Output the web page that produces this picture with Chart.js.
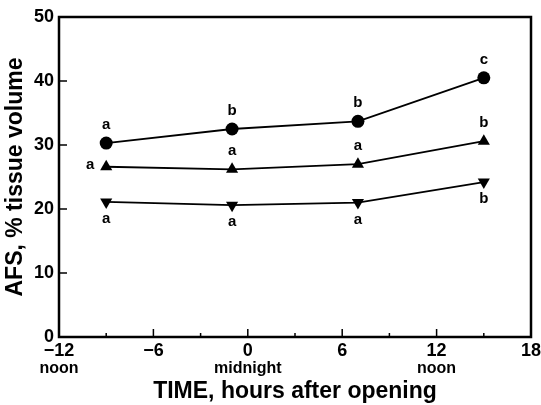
<!DOCTYPE html>
<html>
<head>
<meta charset="utf-8">
<script src="https://cdn.jsdelivr.net/npm/chart.js@4.4.1/dist/chart.umd.min.js"></script>
<style>
  html, body { margin: 0; padding: 0; background: #fff; }
  #wrap { width: 541px; height: 405px; }
</style>
</head>
<body>
<div id="wrap"><canvas id="myChart" width="541" height="405"></canvas></div>
<script>
// hours after opening
const hours = [-9, -1, 7, 15];
// AFS, % tissue volume
const afsCircle = [30.3, 32.5, 33.7, 40.5];
const afsTriangle = [26.6, 26.2, 27.0, 30.6];
const afsInverted = [21.1, 20.6, 21.0, 24.2];
// significance letters
const circleLetters = ['a', 'b', 'b', 'c'];
const triangleLetters = ['a', 'a', 'a', 'b'];
const invertedLetters = ['a', 'a', 'a', 'b'];
// second line under some x ticks
const xSubValues = [-12, 0, 12];
const xSubLabels = ['noon', 'midnight', 'noon'];

const FONT = "'Liberation Sans', Arial, sans-serif";

const toPoints = (ys) => hours.map((h, i) => ({ x: h, y: ys[i] }));

const mkSet = (ys, style, rot) => ({
    data: toPoints(ys),
    showLine: true,
    borderColor: '#000',
    backgroundColor: '#000',
    borderWidth: 1.8,
    pointStyle: style,
    pointRotation: rot,
    pointRadius: style == 'circle' ? 6.5 : 7,
    pointBorderWidth: 0
});

// box, inward ticks, letters and sub labels
const extras = {
    id: 'extras',
    afterDraw(chart) {
        const ctx = chart.ctx;
        const a = chart.chartArea;
        const xs = chart.scales.x, ys = chart.scales.y;
        ctx.save();
        ctx.strokeStyle = '#000';
        ctx.lineWidth = 2.5;
        ctx.strokeRect(a.left, a.top, a.right - a.left, a.bottom - a.top);

        ctx.lineWidth = 1.5;
        ctx.beginPath();
        xs.ticks.forEach(t => {
            const px = xs.getPixelForValue(t.value);
            const len = t.value % 6 == 0 ? 8 : 4;
            ctx.moveTo(px, a.bottom);
            ctx.lineTo(px, a.bottom - len);
        });
        ys.ticks.forEach(t => {
            const py = ys.getPixelForValue(t.value);
            ctx.moveTo(a.left, py);
            ctx.lineTo(a.left + 8, py);
        });
        ctx.stroke();

        ctx.fillStyle = '#000';
        ctx.font = "bold 15px " + FONT;
        ctx.textAlign = 'center';
        ctx.textBaseline = 'middle';
        const letters = [circleLetters, triangleLetters, invertedLetters];
        letters.forEach((ls, di) => {
            const meta = chart.getDatasetMeta(di);
            meta.data.forEach((p, i) => {
                let dx = 0, dy = -18;
                if (di == 1 && i == 0) { dx = -16; dy = -2; }
                if (di == 2) dy = 17;
                ctx.fillText(ls[i], p.x + dx, p.y + dy);
            });
        });

        ctx.font = "bold 16px " + FONT;
        xSubValues.forEach((v, i) => {
            ctx.fillText(xSubLabels[i], xs.getPixelForValue(v), a.bottom + 32);
        });
        ctx.restore();
    }
};

const loadChart = () =>
{
    const ctx = document.getElementById('myChart').getContext('2d');
    new Chart(ctx, {
        type: 'scatter',
        data: {
            datasets: [
                mkSet(afsCircle, 'circle', 0),
                mkSet(afsTriangle, 'triangle', 0),
                mkSet(afsInverted, 'triangle', 180)
            ]
        },
        options: {
            responsive: false,
            animation: false,
            layout: { padding: { top: 17, right: 10, left: 0, bottom: 0 } },
            plugins: { legend: { display: false }, tooltip: { enabled: false } },
            scales: {
                x: {
                    type: 'linear',
                    min: -12, max: 18,
                    ticks: {
                        stepSize: 3,
                        color: '#000',
                        padding: 3,
                        maxRotation: 0,
                        autoSkip: false,
                        font: { family: FONT, size: 18, weight: 'bold' },
                        callback: (v) => v % 6 == 0 ? String(v).replace('-', '\u2212') : ''
                    },
                    grid: { display: false, drawTicks: false },
                    border: { display: false },
                    title: {
                        display: true,
                        text: 'TIME, hours after opening',
                        color: '#000',
                        font: { family: FONT, size: 23, weight: 'bold' },
                        padding: { top: 0, bottom: 0 }
                    },
                    afterFit: (s) => { s.height = 68; s.paddingLeft = 0; s.paddingRight = 0; }
                },
                y: {
                    min: 0, max: 50,
                    ticks: {
                        stepSize: 10,
                        color: '#000',
                        padding: 5,
                        font: { family: FONT, size: 18, weight: 'bold' }
                    },
                    grid: { display: false, drawTicks: false },
                    border: { display: false },
                    title: {
                        display: true,
                        text: 'AFS, % tissue volume',
                        color: '#000',
                        font: { family: FONT, size: 23, weight: 'bold' },
                        padding: { top: 2, bottom: 0 }
                    },
                    afterFit: (s) => { s.width = 59; s.paddingTop = 0; s.paddingBottom = 0; }
                }
            }
        },
        plugins: [extras]
    });
};

loadChart();
</script>
</body>
</html>
